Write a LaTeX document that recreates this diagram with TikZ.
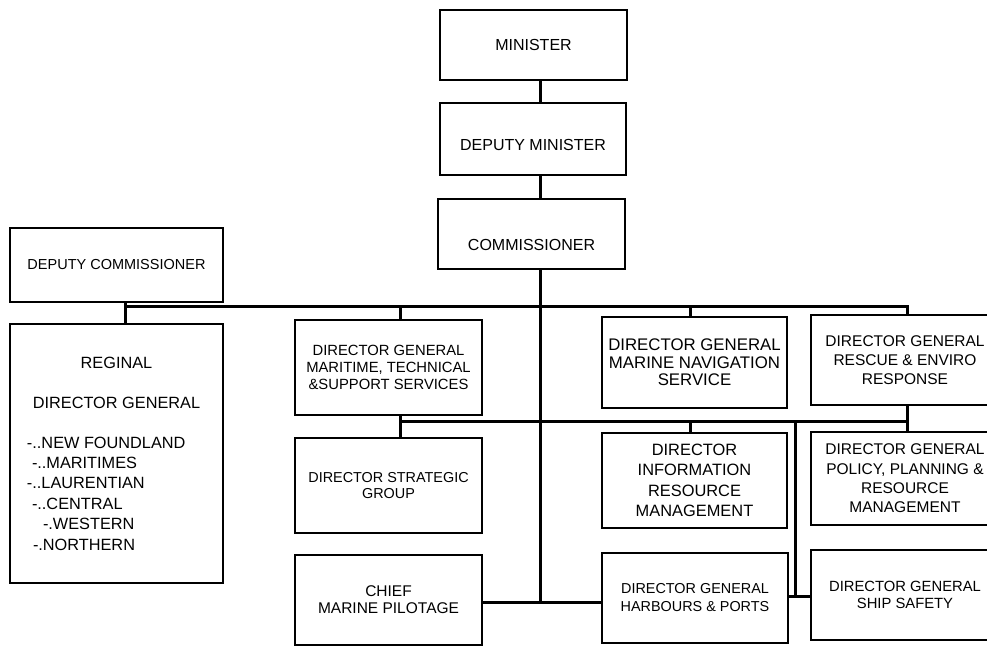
\documentclass[tikz,border=0pt]{standalone}
\usepackage{fontspec}
\setmainfont{Liberation Sans}
\newcommand\fsz[2]{\fontsize{#1}{#2}\selectfont}
\begin{document}
\begin{tikzpicture}[x=1pt,y=-1pt,
  box/.style={draw, line width=1.7pt, inner sep=0pt, align=center},
  conn/.style={line width=3pt, line join=miter}]
\useasboundingbox (0,0) rectangle (987,647);
\clip (0,0) rectangle (987,647);
\fill[white] (0,0) rectangle (987,647);

% boxes
\node[box, minimum width=187pt, minimum height=70pt, font=\fsz{16}{19}] (min) at (533.5,45) {MINISTER};
\node[box, minimum width=186pt, minimum height=72pt, font=\fsz{16}{19}, text height=26pt, text depth=2pt] (dmin) at (533,139) {DEPUTY MINISTER};
\node[box, minimum width=187pt, minimum height=70pt, font=\fsz{16}{19}, text height=35pt, text depth=2pt] (comm) at (531.5,234) {COMMISSIONER};
\node[box, minimum width=213pt, minimum height=74pt, font=\fsz{14.5}{17}] (dcomm) at (116.5,265) {DEPUTY COMMISSIONER};
\node[box, minimum width=213pt, minimum height=259pt] (reg) at (116.5,453.5) {\parbox{190pt}{\fsz{16.3}{20.4}\centering
  REGINAL\\[19.6pt]DIRECTOR GENERAL\par\vspace{19.6pt}\raggedright
  \hspace*{5.5pt}-..NEW FOUNDLAND\\
  \hspace*{10.5pt}-..MARITIMES\\
  \hspace*{5.5pt}-..LAURENTIAN\\
  \hspace*{10.5pt}-..CENTRAL\\
  \hspace*{21.5pt}-.WESTERN\\
  \hspace*{11.5pt}-.NORTHERN\par}};
\node[box, minimum width=187pt, minimum height=95pt, font=\fsz{14.8}{17}] (mts) at (388.5,367.5) {DIRECTOR GENERAL\\MARITIME, TECHNICAL\\\&SUPPORT SERVICES};
\node[box, minimum width=187pt, minimum height=95pt, font=\fsz{14.4}{16}] (strat) at (388.5,485.5) {DIRECTOR STRATEGIC\\GROUP};
\node[box, minimum width=187pt, minimum height=90pt, font=\fsz{15.5}{17}] (chief) at (388.5,600) {CHIEF\\MARINE PILOTAGE};
\node[box, minimum width=185pt, minimum height=91pt, font=\fsz{16.8}{17.5}] (mns) at (694.5,362.5) {DIRECTOR GENERAL\\MARINE NAVIGATION\\SERVICE};
\node[box, minimum width=185pt, minimum height=95pt, font=\fsz{16.4}{20.5}] (info) at (694.5,480.5) {DIRECTOR\\INFORMATION\\RESOURCE\\MANAGEMENT};
\node[box, minimum width=186pt, minimum height=90pt, font=\fsz{14.4}{18}] (harb) at (695,598) {DIRECTOR GENERAL\\HARBOURS \& PORTS};
\node[box, minimum width=188pt, minimum height=90pt, font=\fsz{15.5}{19}] (resc) at (905,360) {DIRECTOR GENERAL\\RESCUE \& ENVIRO\\RESPONSE};
\node[box, minimum width=188pt, minimum height=93pt, font=\fsz{15.5}{19.3}] (pol) at (905,478.5) {DIRECTOR GENERAL\\POLICY, PLANNING \&\\RESOURCE\\MANAGEMENT};
\node[box, minimum width=188pt, minimum height=90pt, font=\fsz{14.8}{17}] (ship) at (905,595) {DIRECTOR GENERAL\\SHIP SAFETY};

% reference coordinates
\coordinate (sp) at (540,0);
\coordinate (c1) at (125,0);
\coordinate (c2) at (400,0);
\coordinate (c3) at (690,0);
\coordinate (c4) at (907,0);
\coordinate (c5) at (795,0);
\coordinate (bus) at (0,306);
\coordinate (bus2) at (0,421);
\coordinate (bus3) at (0,602);
\coordinate (bus4) at (0,596);

% connectors
\draw[conn] (min.south -| sp) -- (dmin.north -| sp);
\draw[conn] (dmin.south -| sp) -- (comm.north -| sp);
\draw[conn] (comm.south -| sp) -- (bus3 -| sp);
\draw[conn] (dcomm.south -| c1) -- (reg.north -| c1);
\draw[conn] (bus -| c1) -- (bus -| c4) -- (resc.north -| c4);
\draw[conn] (bus -| c2) -- (mts.north -| c2);
\draw[conn] (bus -| c3) -- (mns.north -| c3);
\draw[conn] (mts.south -| c2) -- (strat.north -| c2);
\draw[conn] (bus2 -| c2) -- (bus2 -| c4);
\draw[conn] (resc.south -| c4) -- (pol.north -| c4);
\draw[conn] (bus2 -| c3) -- (info.north -| c3);
\draw[conn] (bus2 -| c5) -- (bus4 -| c5);
\draw[conn] (harb.east |- bus4) -- (ship.west |- bus4);
\draw[conn] (chief.east |- bus3) -- (harb.west |- bus3);
\end{tikzpicture}
\end{document}
